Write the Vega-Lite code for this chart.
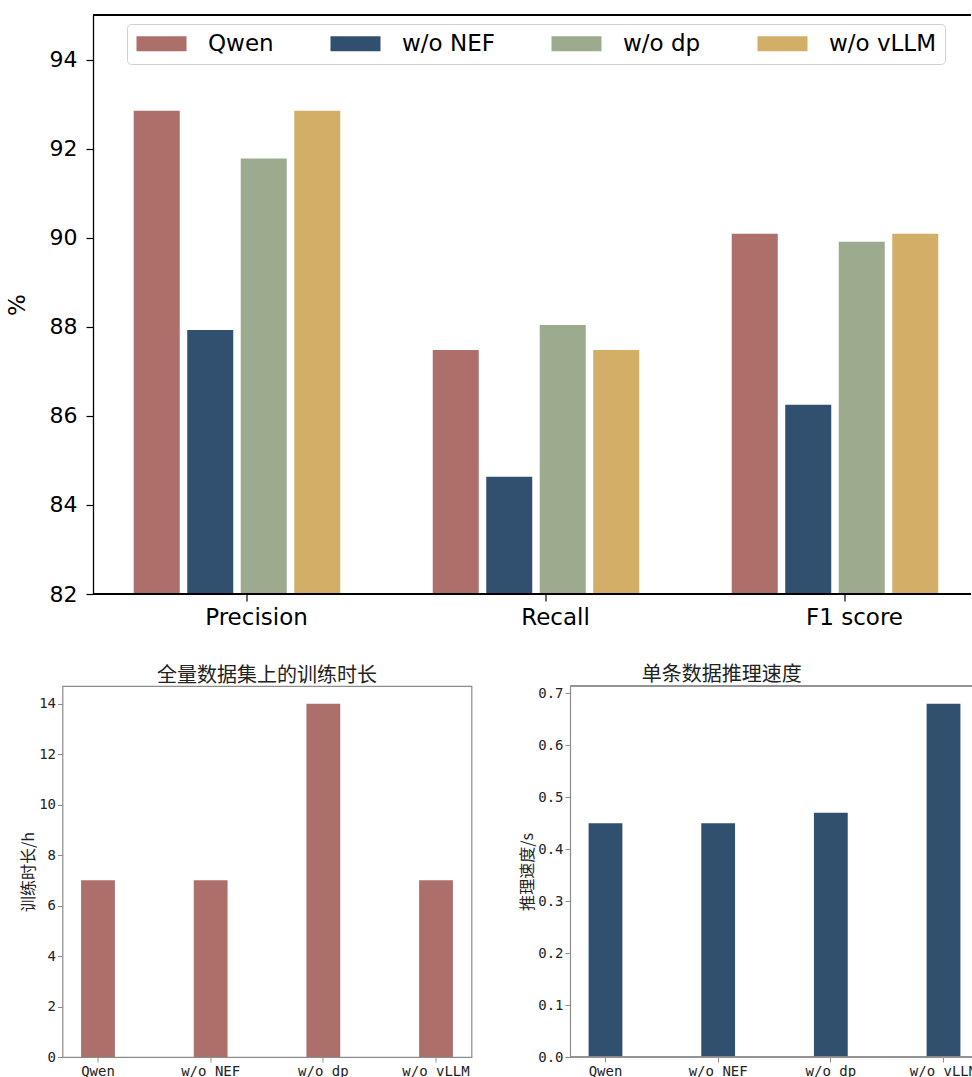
{
  "$schema": "https://vega.github.io/schema/vega-lite/v6.json",
  "background": "white",
  "padding": {"left": 6.5, "top": 14, "right": 0, "bottom": 0},
  "datasets": {
    "metrics": [
      {"metric": "Precision", "model": "Qwen", "value": 92.85},
      {"metric": "Precision", "model": "w/o NEF", "value": 87.93},
      {"metric": "Precision", "model": "w/o dp", "value": 91.78},
      {"metric": "Precision", "model": "w/o vLLM", "value": 92.85},
      {"metric": "Recall", "model": "Qwen", "value": 87.48},
      {"metric": "Recall", "model": "w/o NEF", "value": 84.63},
      {"metric": "Recall", "model": "w/o dp", "value": 88.04},
      {"metric": "Recall", "model": "w/o vLLM", "value": 87.48},
      {"metric": "F1 score", "model": "Qwen", "value": 90.09},
      {"metric": "F1 score", "model": "w/o NEF", "value": 86.25},
      {"metric": "F1 score", "model": "w/o dp", "value": 89.91},
      {"metric": "F1 score", "model": "w/o vLLM", "value": 90.09}
    ],
    "train": [
      {"model": "Qwen", "hours": 7},
      {"model": "w/o NEF", "hours": 7},
      {"model": "w/o dp", "hours": 14},
      {"model": "w/o vLLM", "hours": 7}
    ],
    "infer": [
      {"model": "Qwen", "seconds": 0.45},
      {"model": "w/o NEF", "seconds": 0.45},
      {"model": "w/o dp", "seconds": 0.47},
      {"model": "w/o vLLM", "seconds": 0.68}
    ]
  },
  "config": {"axis": {"grid": false}, "font": "DejaVu Sans"},
  "spacing": 36,
  "vconcat": [
    {
      "data": {"name": "metrics"},
      "width": 908.5,
      "height": 579,
      "view": {"stroke": null},
      "resolve": {"scale": {"x": "independent"}},
      "layer": [
        {
          "mark": {"type": "bar"},
          "encoding": {
            "x": {
              "field": "metric", "type": "nominal",
              "sort": ["Precision", "Recall", "F1 score"],
              "scale": {"range": [25, 922], "paddingInner": 0, "paddingOuter": 0},
              "axis": {"title": null, "domain": false, "labelAngle": 0, "labelFont": "DejaVu Sans", "labelFontSize": 23, "labelColor": "#000", "tickColor": "#000", "tickSize": 7, "tickWidth": 1.2, "labelPadding": 5, "labelOffset": 9.5, "tickOffset": 9.5}
            },
            "xOffset": {
              "field": "model", "type": "nominal",
              "sort": ["Qwen", "w/o NEF", "w/o dp", "w/o vLLM"],
              "scale": {"paddingInner": 0.14, "paddingOuter": 0.864}
            },
            "y": {
              "field": "value", "type": "quantitative",
              "scale": {"domain": [82, 95], "zero": false, "nice": false},
              "axis": {"offset": -30.5, "values": [82, 84, 86, 88, 90, 92, 94], "title": "%", "titleFont": "DejaVu Sans", "titleFontSize": 23, "titleFontWeight": "normal", "titleColor": "#000", "titlePadding": 19.5, "labelFont": "DejaVu Sans", "labelFontSize": 22, "labelColor": "#000", "labelPadding": 9, "tickSize": 7, "tickColor": "#000", "tickWidth": 1.2, "domainColor": "#000", "domainWidth": 1.3}
            },
            "y2": {"datum": 82},
            "color": {
              "field": "model", "type": "nominal",
              "sort": ["Qwen", "w/o NEF", "w/o dp", "w/o vLLM"],
              "scale": {"domain": ["Qwen", "w/o NEF", "w/o dp", "w/o vLLM"], "range": ["#ad6f6a", "#314f6f", "#9cab8e", "#d2ae67"]},
              "legend": {
                "title": null, "orient": "none", "legendX": 64.5, "legendY": 9,
                "direction": "horizontal", "columns": 4, "columnPadding": 55,
                "symbolType": "M-1,-0.75H4V0.75H-1Z", "symbolSize": 400, "symbolStrokeWidth": 0, "symbolOpacity": 1,
                "labelOffset": 50, "labelFont": "DejaVu Sans", "labelFontSize": 23, "labelColor": "#000",
                "padding": 8, "fillColor": "white", "strokeColor": "#d0d0d0", "cornerRadius": 4
              }
            }
          }
        },
        {
          "mark": {"type": "rule", "color": "#000", "strokeWidth": 1.3},
          "encoding": {
            "x": {"datum": 0, "type": "quantitative", "scale": {"domain": [0, 1], "range": [30.5, 908.5]}, "axis": null},
            "x2": {"datum": 1},
            "y": {"datum": 95}
          }
        },
        {
          "mark": {"type": "rule", "color": "#000", "strokeWidth": 1.3},
          "encoding": {
            "x": {"datum": 0, "type": "quantitative", "scale": {"domain": [0, 1], "range": [30.5, 908.5]}, "axis": null},
            "x2": {"datum": 1},
            "y": {"datum": 82}
          }
        }
      ]
    },
    {
      "spacing": 46.5,
      "hconcat": [
        {
          "data": {"name": "train"},
          "width": 409,
          "height": 371,
          "title": {"text": "全量数据集上的训练时长", "font": "Noto Sans CJK SC", "fontSize": 20, "fontWeight": "normal", "color": "#222", "offset": 0},
          "view": {"stroke": "#8c8c8c", "strokeWidth": 1.2},
          "mark": {"type": "bar", "color": "#ad6f6a"},
          "encoding": {
            "x": {
              "field": "model", "type": "nominal", "sort": ["Qwen", "w/o NEF", "w/o dp", "w/o vLLM"],
              "scale": {"paddingInner": 0.7, "paddingOuter": 0.165},
              "axis": {"title": null, "domain": false, "labelAngle": 0, "labelFont": "DejaVu Sans Mono", "labelFontSize": 14, "labelColor": "#222", "labelPadding": 2, "tickSize": 5, "tickColor": "#8c8c8c"}
            },
            "y": {
              "field": "hours", "type": "quantitative",
              "scale": {"domain": [0, 14.7], "nice": false},
              "axis": {"values": [0, 2, 4, 6, 8, 10, 12, 14], "title": "训练时长/h", "titleFont": "Noto Sans CJK SC", "titleFontSize": 16, "titleFontWeight": "normal", "titleColor": "#222", "titlePadding": 2.6, "domain": false, "labelFont": "DejaVu Sans Mono", "labelFontSize": 14, "labelColor": "#222", "labelPadding": 2, "tickSize": 5, "tickColor": "#8c8c8c"}
            }
          }
        },
        {
          "data": {"name": "infer"},
          "width": 403,
          "height": 371,
          "title": {"text": "单条数据推理速度", "font": "Noto Sans CJK SC", "fontSize": 20, "fontWeight": "normal", "color": "#222", "offset": 0, "anchor": "start", "dx": 122},
          "view": {"stroke": null},
          "layer": [
            {
              "mark": {"type": "bar", "color": "#314f6f"},
              "encoding": {
                "x": {
                  "field": "model", "type": "nominal", "sort": ["Qwen", "w/o NEF", "w/o dp", "w/o vLLM"],
                  "scale": {"range": [0, 409], "paddingInner": 0.7, "paddingOuter": 0.165},
                  "axis": {"title": null, "domain": false, "labelAngle": 0, "labelFont": "DejaVu Sans Mono", "labelFontSize": 14, "labelColor": "#222", "labelPadding": 2, "tickSize": 5, "tickColor": "#8c8c8c"}
                },
                "y": {
                  "field": "seconds", "type": "quantitative",
                  "scale": {"domain": [0, 0.714], "nice": false},
                  "axis": {"values": [0, 0.1, 0.2, 0.3, 0.4, 0.5, 0.6, 0.7], "format": ".1f", "title": "推理速度/s", "titleFont": "Noto Sans CJK SC", "titleFontSize": 16, "titleFontWeight": "normal", "titleColor": "#222", "titlePadding": 2, "domainColor": "#8c8c8c", "domainWidth": 1.2, "labelFont": "DejaVu Sans Mono", "labelFontSize": 14, "labelColor": "#222", "labelPadding": 2, "tickSize": 5, "tickColor": "#8c8c8c"}
                }
              }
            },
            {"mark": {"type": "rule", "color": "#8c8c8c", "strokeWidth": 1.2}, "encoding": {"y": {"datum": 0.714}}},
            {"mark": {"type": "rule", "color": "#8c8c8c", "strokeWidth": 1.2}, "encoding": {"y": {"datum": 0}}}
          ]
        }
      ]
    }
  ]
}
